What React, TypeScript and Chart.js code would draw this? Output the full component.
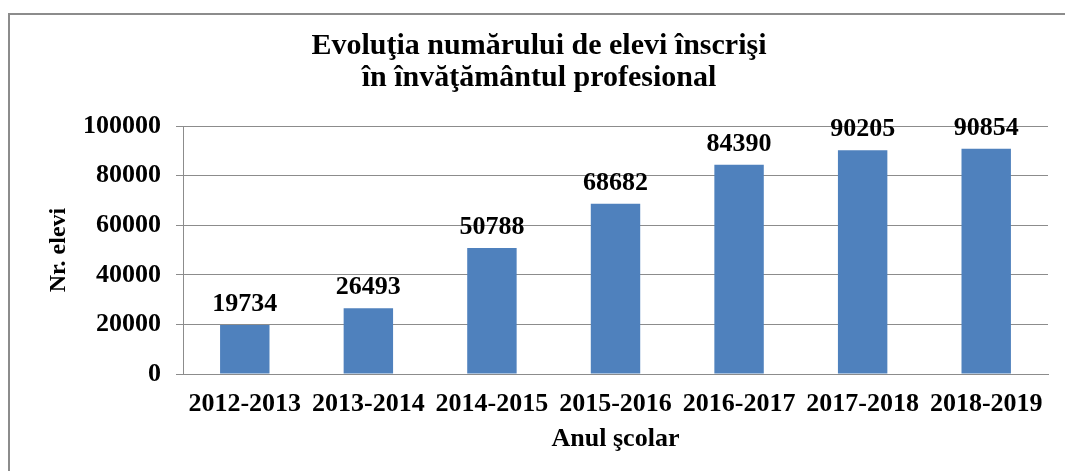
import React, { useEffect, useRef } from 'react';
import { Chart, registerables } from 'chart.js';

Chart.register(...registerables);

const categories = ['2012-2013', '2013-2014', '2014-2015', '2015-2016', '2016-2017', '2017-2018', '2018-2019'];
const values = [19734, 26493, 50788, 68682, 84390, 90205, 90854];
const titleLines = ['Evoluţia numărului de elevi înscrişi', 'în învăţământul profesional'];
const yAxisTitle = 'Nr. elevi';
const xAxisTitle = 'Anul şcolar';
const yMin = 0;
const yMax = 100000;
const yStep = 20000;

const FONT = '"Liberation Serif", "Times New Roman", serif';
const GRID = '#8c8c8c';
const BAR = '#4f81bd';

const valueLabels = {
  id: 'valueLabels',
  afterDatasetsDraw(chart: any) {
    const ctx = chart.ctx;
    const meta = chart.getDatasetMeta(0);
    ctx.save();
    ctx.font = `bold 26px ${FONT}`;
    ctx.fillStyle = '#000';
    ctx.textAlign = 'center';
    ctx.textBaseline = 'alphabetic';
    meta.data.forEach((bar: any, i: number) => {
      ctx.fillText(String(values[i]), bar.x, bar.y - 14);
    });
    ctx.restore();
  },
};

export default function App() {
  const ref = useRef<HTMLCanvasElement>(null);
  useEffect(() => {
    const chart = new Chart(ref.current as HTMLCanvasElement, {
      type: 'bar',
      data: {
        labels: categories,
        datasets: [
          {
            data: values,
            backgroundColor: BAR,
            borderWidth: 0,
            categoryPercentage: 1,
            barPercentage: 0.4,
          },
        ],
      },
      plugins: [valueLabels],
      options: {
        animation: false,
        responsive: true,
        maintainAspectRatio: false,
        layout: { padding: { left: 13, right: 0, top: 0, bottom: 0 } },
        plugins: {
          legend: { display: false },
          tooltip: { enabled: false },
          title: {
            display: true,
            text: titleLines,
            color: '#000',
            font: { family: FONT, size: 30, weight: 'bold', lineHeight: 1.067 },
            padding: { top: 30, bottom: 32 },
          },
        },
        scales: {
          x: {
            grid: { display: false, drawTicks: false },
            border: { display: true, color: GRID, width: 1 },
            ticks: {
              color: '#000',
              font: { family: FONT, size: 26, weight: 'bold' },
              padding: 15,
              maxRotation: 0,
              autoSkip: false,
            },
            title: {
              display: true,
              text: xAxisTitle,
              color: '#000',
              font: { family: FONT, size: 26, weight: 'bold', lineHeight: 1.2 },
              padding: { top: 0, bottom: 16 },
            },
            afterFit: (s: any) => {
              s.height = 97;
            },
          },
          y: {
            min: yMin,
            max: yMax,
            grid: { color: GRID, lineWidth: 1, drawTicks: true, tickLength: 7, tickColor: GRID },
            border: { display: true, color: GRID, width: 1 },
            ticks: {
              stepSize: yStep,
              color: '#000',
              font: { family: FONT, size: 26, weight: 'bold' },
              padding: 15,
              callback: (v: any) => String(v),
            },
            title: {
              display: true,
              text: yAxisTitle,
              color: '#000',
              font: { family: FONT, size: 24, weight: 'bold', lineHeight: 1.2 },
              padding: { top: 31, bottom: 0 },
            },
            afterFit: (s: any) => {
              s.width = 170;
            },
          },
          yRight: {
            type: 'linear',
            position: 'right',
            display: true,
            grid: { display: false, drawTicks: false },
            border: { display: false },
            ticks: { display: false },
            afterFit: (s: any) => {
              s.width = 17;
            },
          },
        },
      } as any,
    });
    return () => chart.destroy();
  }, []);

  return (
    <div style={{ position: 'absolute', left: 0, top: 0, width: 1065, height: 471, overflow: 'hidden', background: '#fff' }}>
      <div
        style={{
          position: 'absolute',
          left: 8,
          top: 13,
          width: 1200,
          height: 600,
          borderLeft: `2px solid ${GRID}`,
          borderTop: `2px solid ${GRID}`,
        }}
      />
      <div style={{ position: 'absolute', left: 0, top: 0, width: 1065, height: 471 }}>
        <canvas ref={ref} />
      </div>
    </div>
  );
}
